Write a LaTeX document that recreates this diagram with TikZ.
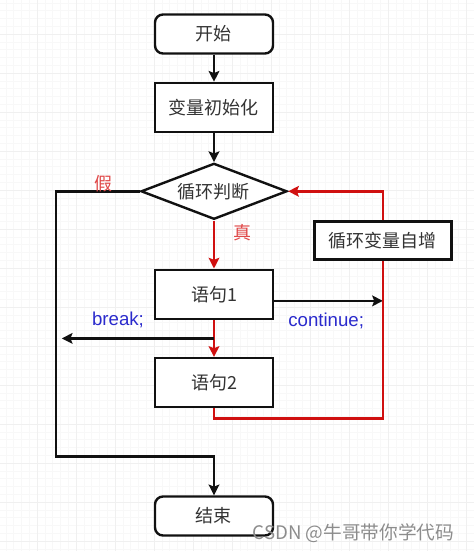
\documentclass[tikz,border=0pt]{standalone}
\usepackage{fontspec}
\setmainfont{Liberation Sans}
\newfontfamily\cjk{Noto Sans CJK SC}
\usepackage{xcolor}
\usepackage{tikz}
\usetikzlibrary{shapes.geometric, arrows.meta, positioning, calc}
\definecolor{ink}{HTML}{111111}
\definecolor{loopred}{HTML}{D01010}
\definecolor{labelred}{HTML}{E04848}
\definecolor{kwblue}{HTML}{2A2ACC}
\definecolor{gridminor}{HTML}{F8F8F8}
\definecolor{gridmajor}{HTML}{F0F0F0}
\tikzset{
  box/.style      = {draw=ink, line width=1.8pt, rectangle, fill=white, align=center,
                     minimum width=88.5pt, minimum height=36.75pt, text=black!80,
                     font=\cjk\fontsize{13.5}{16}\selectfont},
  terminal/.style = {box, rounded corners=6pt, minimum height=29.25pt},
  decision/.style = {box, diamond, aspect=2.5, inner sep=0pt,
                     minimum width=109.5pt, minimum height=42pt},
  flow/.style     = {-{Stealth[length=8pt, width=8pt, inset=1.5pt]}, draw=ink, line width=1.8pt},
  flowred/.style  = {flow, draw=loopred},
  backline/.style = {draw=loopred, line width=1.8pt},
  tag/.style      = {font=\cjk\fontsize{13.5}{16}\selectfont, text=labelred},
  keyword/.style  = {font=\fontsize{14}{16}\selectfont, text=kwblue},
  watermark/.style = {font=\cjk\fontsize{14}{16}\selectfont, text=black!45},
}

\begin{document}
\begin{tikzpicture}
  \useasboundingbox (-160.5pt,25.5pt) rectangle (195pt,-387.75pt);
  % background grid
  \begin{scope}[shift={(-132.75pt,0pt)}]
    \clip (-27.75pt,25.5pt) rectangle (327.75pt,-387.75pt);
    \draw[gridminor, line width=0.4pt, step=5.85pt] (-35pt,30pt) grid (335pt,-395pt);
    \draw[gridmajor, line width=0.7pt, step=29.25pt] (-35pt,30pt) grid (335pt,-395pt);
  \end{scope}

  \node[terminal] (start) at (0,0) {开始};
  \node[box, below=20.25pt of start] (init) {变量初始化};
  \node[decision, below=21.75pt of init] (cond) {循环判断};
  \node[box, below=36pt of cond] (stmt1) {语句1};
  \node[box, below=27.75pt of stmt1] (stmt2) {语句2};
  \node[terminal, below=65.25pt of stmt2] (stop) {结束};
  \node[box, minimum width=102.75pt, minimum height=28.5pt,
        below right=21.75pt and 18.75pt of cond.east] (inc) {循环变量自增};

  \draw[flow] (start) -- (init);
  \draw[flow] (init) -- (cond);
  \draw[flowred] (cond) -- (stmt1);
  \draw[flowred] (stmt1) -- (stmt2);

  % false branch
  \coordinate (falsebend) at ($(cond.west)+(-63pt,0)$);
  \coordinate (joinend) at ($(stop.north)+(0,29.25pt)$);
  \draw[flow] (cond.west) -- (falsebend) |- (joinend) -- (stop.north);
  \node[tag] (nolabel) at ($(cond.west)+(-27pt,6pt)$) {假};
  \node[tag] (yeslabel) at ($(cond.south)+(21.75pt,-9pt)$) {真};

  % continue / break
  \coordinate (contin) at ($(stmt1.east)+(0,-5pt)$);
  \draw[flow] (contin) -- (contin -| inc.south);
  \node[keyword] (contlabel) at ($(contin)+(39pt,-15pt)$) {continue;};
  \coordinate (brk) at ($(stmt1.south)!0.5!(stmt2.north)$);
  \draw[flow] (brk) -- ($(brk -| falsebend)+(4.5pt,0)$);
  \node[keyword] (brklabel) at ($(brk)+(-72pt,13.5pt)$) {break;};

  % loop back
  \draw[backline] (stmt2.south) -- ++(0,-7.5pt) -| (inc.south);
  \draw[flowred] (inc.north) |- (cond.east);

  \node[watermark, anchor=west] (wm) at ($(stop.center)+(25.5pt,-12.75pt)$) {CSDN @牛哥带你学代码};
\end{tikzpicture}
\end{document}
